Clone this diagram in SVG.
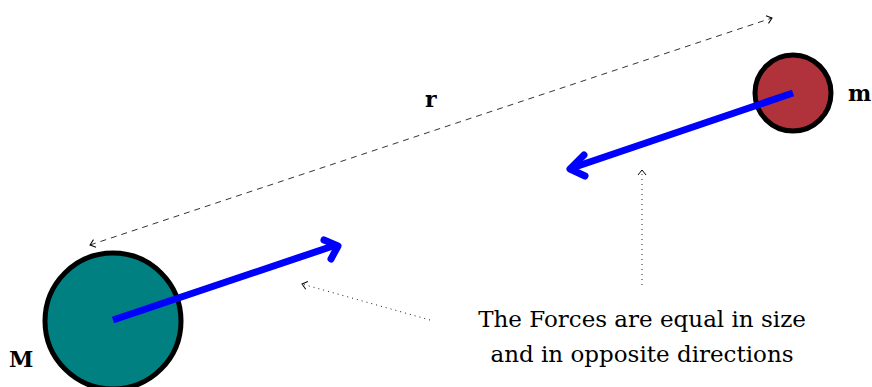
<svg xmlns="http://www.w3.org/2000/svg" width="872" height="387" viewBox="0 0 872 387">
<defs>
<style>
.lbl{font-family:"DejaVu Serif","Liberation Serif",serif;font-weight:bold;font-size:22px;fill:#000}
.note{font-family:"DejaVu Serif","Liberation Serif",serif;font-size:23px;fill:#000}
.force{stroke:#0000ff;stroke-width:7;fill:none;stroke-linecap:butt}
.head{stroke:#0000ff;stroke-width:7;fill:none;stroke-linecap:round;stroke-linejoin:round}
.body{stroke:#000;stroke-width:5}
</style>
<marker id="open" viewBox="-6 -5 8 10" markerWidth="8" markerHeight="10" refX="0" refY="0" orient="auto" markerUnits="userSpaceOnUse">
<path d="M-5,-4 L0,0 L-5,4" fill="none" stroke="#000" stroke-width="1"/>
</marker>
<marker id="openrev" viewBox="-2 -5 8 10" markerWidth="8" markerHeight="10" refX="0" refY="0" orient="auto" markerUnits="userSpaceOnUse">
<path d="M5,-4 L0,0 L5,4" fill="none" stroke="#000" stroke-width="1"/>
</marker>
</defs>
<g id="node-M">
<circle class="body" cx="113" cy="321" r="68" fill="#008080"/>
<text class="lbl" x="9" y="367">M</text>
</g>
<g id="node-m">
<circle class="body" cx="793" cy="93" r="38" fill="#b0323a"/>
<text class="lbl" x="848" y="101">m</text>
</g>
<g id="connectors">
<path class="force" d="M113,320 L336,245"/>
<path class="head" d="M324,240 L338,246 L331,259"/>
<path class="force" d="M793,93 L572,168"/>
<path class="head" d="M584,155 L570,169 L585,176"/>
<path d="M90,245 L772,18" stroke="#000" stroke-width="0.8" stroke-dasharray="6,5" fill="none" marker-start="url(#openrev)" marker-end="url(#open)"/>
<path d="M430,320 L302,284" stroke="#000" stroke-width="0.9" stroke-dasharray="1,4" fill="none" marker-end="url(#open)"/>
<path d="M642,285 L642,170" stroke="#000" stroke-width="0.9" stroke-dasharray="1,4" fill="none" marker-end="url(#open)"/>
<text class="lbl" x="425" y="107">r</text>
</g>
<g id="note">
<text class="note" text-anchor="middle" x="642" y="327">The Forces are equal in size</text>
<text class="note" text-anchor="middle" x="642" y="362">and in opposite directions</text>
</g>
</svg>
